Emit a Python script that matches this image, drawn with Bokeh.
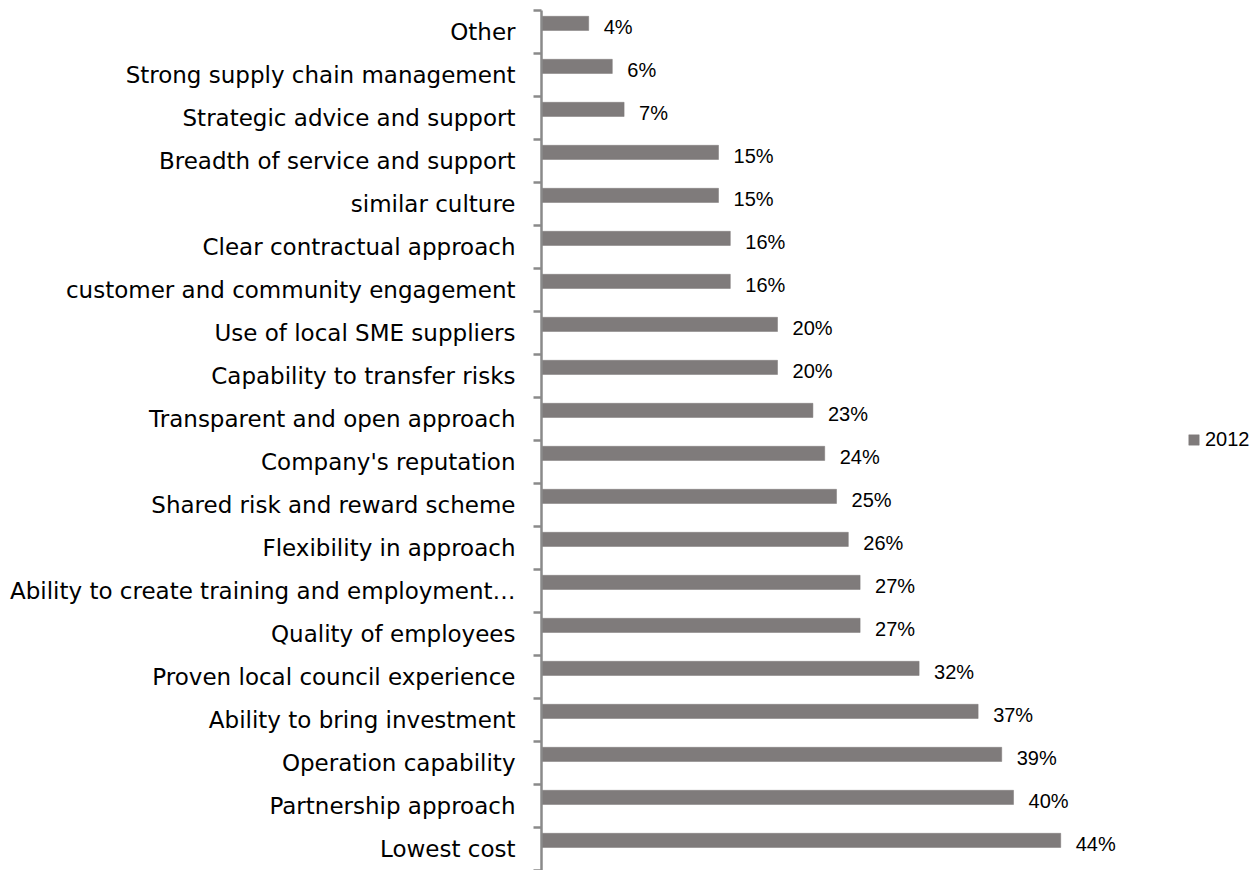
import numpy as np
from bokeh.plotting import figure
from bokeh.models import (Range1d, LinearAxis, FixedTicker, ColumnDataSource, Legend, LegendItem)
from bokeh.core.properties import value
from bokeh.embed import file_html
from bokeh.resources import INLINE

categories = [
    "Other",
    "Strong supply chain management",
    "Strategic advice and support",
    "Breadth of service and support",
    "similar culture",
    "Clear contractual approach",
    "customer and community engagement",
    "Use of local SME suppliers",
    "Capability to transfer risks",
    "Transparent and open approach",
    "Company's reputation",
    "Shared risk and reward scheme",
    "Flexibility in approach",
    "Ability to create training and employment\u2026",
    "Quality of employees",
    "Proven local council experience",
    "Ability to bring investment",
    "Operation capability",
    "Partnership approach",
    "Lowest cost",
]
values_2012 = [4, 6, 7, 15, 15, 16, 16, 20, 20, 23, 24, 25, 26, 27, 27, 32, 37, 39, 40, 44]
series_name = "2012"

n = len(categories)
labels = [f"{v}%" for v in values_2012]
band = np.arange(n)[::-1].astype(float)        # band bottom, first category on top
centers = band + 0.5
bar_y = band + 0.7                               # bars sit in the upper part of each band

src = ColumnDataSource(dict(y=bar_y, val=values_2012, lab=labels))

BAR = "#7f7b7b"
AX = "#8a8a8a"
LABEL_FONT = "DejaVu Sans"
NUM_FONT = "Liberation Sans"

p = figure(width=1254, height=870, output_backend="svg", toolbar_location=None,
           y_range=Range1d(0, n), x_range=Range1d(0, 60.42),
           y_axis_location=None, x_axis_location=None,
           min_border_left=541, min_border_right=0, min_border_top=10, min_border_bottom=0)
p.outline_line_color = None
p.xgrid.visible = False
p.ygrid.visible = False

yaxis = LinearAxis(ticker=FixedTicker(ticks=list(centers), minor_ticks=list(range(n + 1))),
                   major_label_overrides={float(c): lab for c, lab in zip(centers, categories)},
                   major_tick_out=0, major_tick_in=0,
                   minor_tick_out=8, minor_tick_in=0,
                   minor_tick_line_color=AX, minor_tick_line_width=2.5,
                   major_tick_line_color=None,
                   axis_line_color=AX, axis_line_width=2.5,
                   major_label_standoff=18,
                   major_label_text_font=LABEL_FONT,
                   major_label_text_font_size="23px",
                   major_label_text_color="#000000")
p.add_layout(yaxis, "left")

bars = p.hbar(y="y", right="val", left=0, height=0.33,
              source=src, fill_color=BAR, line_color=BAR, line_width=0.5)

p.text(x="val", y="y", text="lab", source=src,
       x_offset=15, y_offset=4, text_baseline="middle", text_align="left",
       text_font=value(NUM_FONT), text_font_size="20px", text_color="#000000")

legend = Legend(items=[LegendItem(label=series_name, renderers=[bars])],
                location=(646, 419), orientation="vertical",
                glyph_width=13, glyph_height=13, label_standoff=5,
                label_text_font=NUM_FONT, label_text_font_size="20px",
                label_text_color="#000000",
                padding=0, margin=0, border_line_color=None, background_fill_alpha=0)
p.add_layout(legend)

open("out.html", "w").write(file_html(p, INLINE))
